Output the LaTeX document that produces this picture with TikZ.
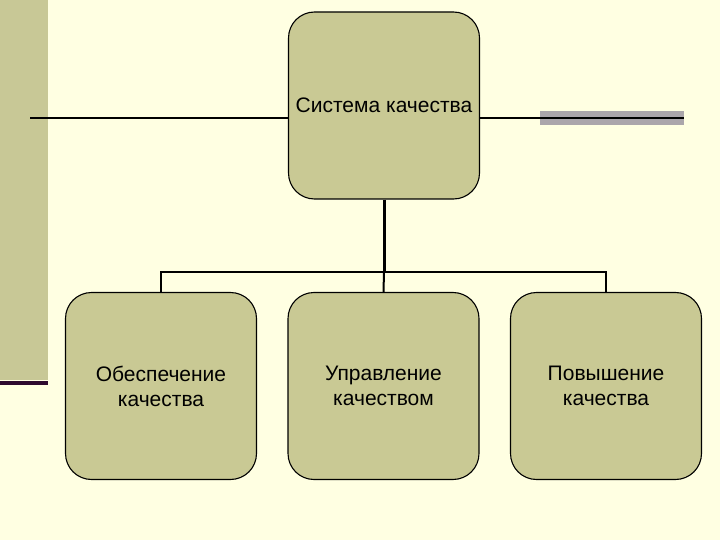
\documentclass[tikz,border=0pt]{standalone}
\usepackage{fontspec}
\setmainfont{Liberation Sans}
\definecolor{bgc}{HTML}{FFFFE2}
\definecolor{stripe}{HTML}{C8C896}
\definecolor{boxfill}{HTML}{C9C994}
\definecolor{barg}{HTML}{ABA6AB}
\definecolor{darkp}{HTML}{2E0A2E}
\begin{document}
\begin{tikzpicture}[x=1pt,y=-1pt,
  rbox/.style={draw=black,line width=1.1pt,fill=boxfill,rounded corners=26pt,
    minimum width=191pt,minimum height=187pt,align=center,inner sep=0pt,
    font=\fontsize{21}{25}\selectfont},
  conn/.style={line width=2pt,draw=black}]
\useasboundingbox (0,0) rectangle (720,540);
\fill[bgc] (0,0) rectangle (720,540);
\fill[stripe] (0,0) rectangle (48,380);
\fill[darkp] (0,381) rectangle (48,385);
\fill[barg] (540,111) rectangle (684,125);
\coordinate (lstart) at (30,118);
\coordinate (rend) at (684,118);
\node[rbox] (top) at (384,105.5) {Система качества};
\node[rbox] (b1) at (161,386) {Обеспечение\\качества};
\node[rbox] (b2) at (383.5,386) {Управление\\качеством};
\node[rbox] (b3) at (606,386) {Повышение\\качества};
\draw[conn] (lstart) -- (top.west |- lstart);
\draw[conn] (top.east |- rend) -- (rend);
\coordinate (jn) at (384,272);
\draw[line width=3pt] (top.south) -- (jn);
\draw[conn] (b1.north) |- (jn) -| (b3.north);
\draw[conn] (jn) -- (b2.north);
\end{tikzpicture}
\end{document}
